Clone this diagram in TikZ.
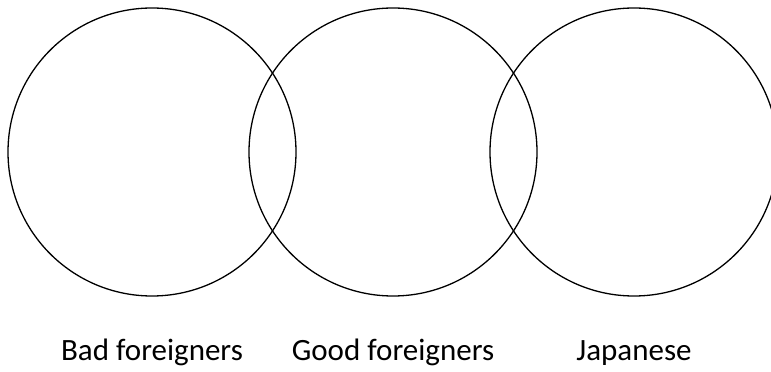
\documentclass[tikz,border=0pt]{standalone}
\usepackage{fontspec}
\setmainfont{Carlito}
\usepackage{tikz}
\usetikzlibrary{positioning}
\tikzset{
  ring/.style  ={circle,draw,line width=1.3pt,minimum size=288pt,inner sep=0pt},
  tag/.style   ={anchor=base,inner sep=0pt,font=\fontsize{31}{37}\selectfont},
}

\begin{document}
\begin{tikzpicture}[x=1pt,y=1pt]
  \useasboundingbox (0,0) rectangle (771,372);
  \clip (0,0) rectangle (771,372);
  \foreach \x/\name/\txt in {152/bad/Bad foreigners,393/good/Good foreigners,634/jap/Japanese}{
     \node[ring] (\name) at (\x,220){};
     \node[tag] (\name-tag) at (\x,11){\txt};
  }
\end{tikzpicture}
\end{document}
